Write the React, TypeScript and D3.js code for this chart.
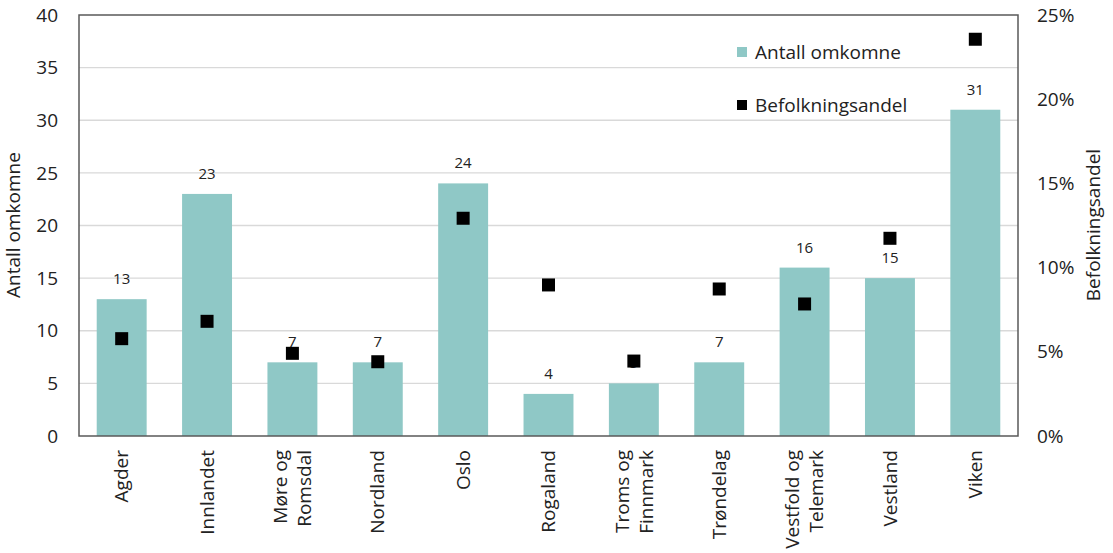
import React from "react";
import * as d3 from "d3";

const categories = [
  "Agder", "Innlandet", "Møre og Romsdal", "Nordland", "Oslo", "Rogaland",
  "Troms og Finnmark", "Trøndelag", "Vestfold og Telemark", "Vestland", "Viken",
];
const categoryLines = [
  ["Agder"], ["Innlandet"], ["Møre og", "Romsdal"], ["Nordland"], ["Oslo"], ["Rogaland"],
  ["Troms og", "Finnmark"], ["Trøndelag"], ["Vestfold og", "Telemark"], ["Vestland"], ["Viken"],
];
const deaths = [13, 23, 7, 7, 24, 4, 5, 7, 16, 15, 31];
const popShare = [0.0578, 0.0681, 0.0491, 0.0441, 0.1293, 0.0897, 0.0445, 0.0873, 0.0784, 0.1174, 0.2356];
const leftTicks = [0, 5, 10, 15, 20, 25, 30, 35, 40];
const rightTicks = [0, 0.05, 0.1, 0.15, 0.2, 0.25];

const W = 1113, H = 553;
const M = { left: 79, right: 1018, top: 15, bottom: 436 };
const FONT = "'Open Sans', 'Noto Sans', sans-serif";
const TEAL = "#8fc8c6";

export default function App() {
  const x = d3.scaleBand().domain(categories).range([M.left, M.right]).paddingInner(0.415).paddingOuter(0.2075);
  const yL = d3.scaleLinear().domain([0, 40]).range([M.bottom, M.top]);
  const yR = d3.scaleLinear().domain([0, 0.25]).range([M.bottom, M.top]);
  const pct = d3.format(".0%");
  const sq = 13;
  return (
    <svg width={W} height={H} style={{ position: "absolute", left: 0, top: 0, background: "#fff" }} fontFamily={FONT}>
      {leftTicks.map((t) => (
        <g key={"g" + t}>
          {t > 0 && t < 40 && (
            <line x1={M.left} x2={M.right} y1={yL(t)} y2={yL(t)} stroke="#d9d9d9" strokeWidth={1.3} />
          )}
          <text x={58} y={yL(t)} dy="0.35em" textAnchor="end" fontSize={19} fill="#222">{t}</text>
        </g>
      ))}
      {rightTicks.map((t) => (
        <text key={"r" + t} x={1037} y={yR(t)} dy="0.35em" textAnchor="start" fontSize={19} fill="#222">{pct(t)}</text>
      ))}
      {categories.map((c, i) => (
        <g key={c}>
          <rect x={x(c)!} y={yL(deaths[i])} width={x.bandwidth()} height={M.bottom - yL(deaths[i])} fill={TEAL} />
          <text x={x(c)! + x.bandwidth() / 2} y={yL(deaths[i]) - 15} textAnchor="middle" fontSize={15} fill="#222">{deaths[i]}</text>
        </g>
      ))}
      {categories.map((c, i) => (
        <rect key={"s" + c} x={x(c)! + x.bandwidth() / 2 - sq / 2} y={yR(popShare[i]) - sq / 2} width={sq} height={sq} fill="#000" />
      ))}
      <rect x={M.left} y={M.top} width={M.right - M.left} height={M.bottom - M.top} fill="none" stroke="#595959" strokeWidth={1.5} />
      {categories.map((c, i) => {
        const cx = x(c)! + x.bandwidth() / 2;
        const lines = categoryLines[i];
        const lh = 24;
        return (
          <text key={"l" + c} transform={`translate(${cx},450) rotate(-90)`} textAnchor="end" fontSize={19} fill="#222">
            {lines.map((ln, j) => (
              <tspan key={j} x={0} y={(j - (lines.length - 1) / 2) * lh} dy="0.35em">{ln}</tspan>
            ))}
          </text>
        );
      })}
      <text transform="translate(20,225) rotate(-90)" textAnchor="middle" fontSize={19} fill="#222">Antall omkomne</text>
      <text transform="translate(1100,225) rotate(-90)" textAnchor="middle" fontSize={19} fill="#222">Befolkningsandel</text>
      <rect x={737} y={47} width={10} height={10} fill={TEAL} />
      <text x={755} y={52} dy="0.35em" fontSize={19} fill="#222">Antall omkomne</text>
      <rect x={737} y={100} width={10} height={10} fill="#000" />
      <text x={755} y={105} dy="0.35em" fontSize={19} fill="#222">Befolkningsandel</text>
    </svg>
  );
}
